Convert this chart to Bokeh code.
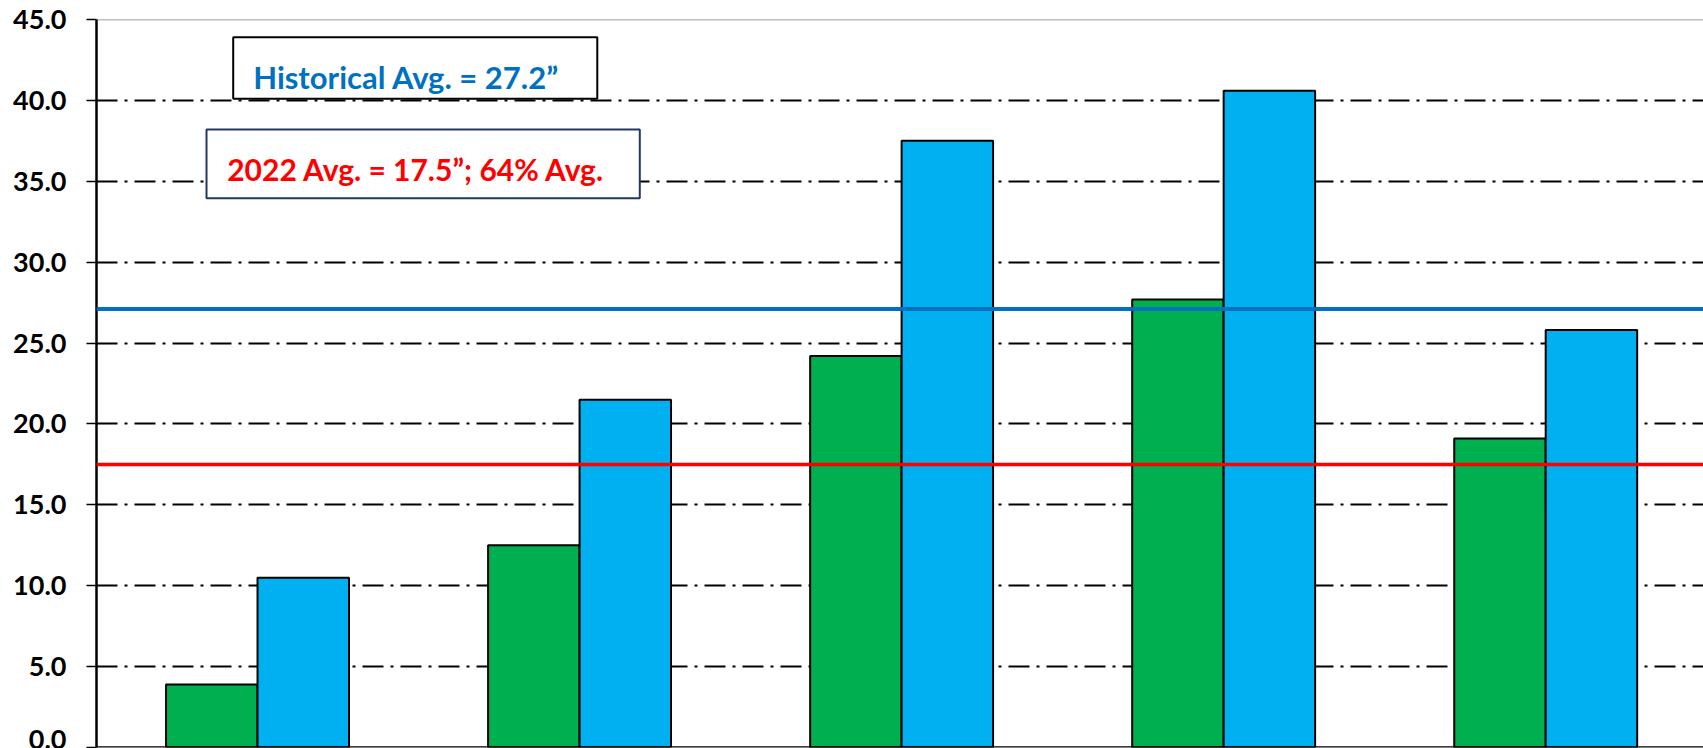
import numpy as np
from bokeh.plotting import figure
from bokeh.models import (Range1d, FixedTicker, PrintfTickFormatter, Span,
                          BoxAnnotation, Label, ColumnDataSource)
from bokeh.embed import file_html
from bokeh.resources import INLINE

# ---- data ----
categories = ["Group 1", "Group 2", "Group 3", "Group 4", "Group 5"]
season_2022 = [3.9, 12.5, 24.2, 27.7, 19.1]
historical = [10.5, 21.5, 37.5, 40.6, 25.8]
avg_2022 = 17.5
avg_hist = 27.1
y_ticks = [0, 5, 10, 15, 20, 25, 30, 35, 40, 45]
hist_text = "Historical Avg. = 27.2\u201d"
text_2022 = "2022 Avg. = 17.5\u201d; 64% Avg."

GREEN = "#00B050"
BLUE = "#00B0F0"
LINE_BLUE = "#0070C0"
RED = "#FF0000"
FONT = "Lato"

idx = np.arange(len(categories))
bar_w = 0.284
src = ColumnDataSource(dict(
    cat=categories,
    xg=idx + 0.5 - bar_w / 2,
    xb=idx + 0.5 + bar_w / 2,
    g=season_2022,
    b=historical,
))

p = figure(width=1703, height=748,
           x_range=Range1d(0, 4.99), y_range=Range1d(0, 45),
           output_backend="svg", toolbar_location=None,
           min_border_left=96, min_border_right=0,
           min_border_top=19, min_border_bottom=1)
p.outline_line_color = None
p.background_fill_color = "white"
p.border_fill_color = "white"

p.xaxis.visible = False
p.xgrid.visible = False

yax = p.yaxis[0]
yax.ticker = FixedTicker(ticks=y_ticks)
yax.formatter = PrintfTickFormatter(format="%.1f")
yax.major_label_text_font = FONT
yax.major_label_text_font_style = "bold"
yax.major_label_text_font_size = "27px"
yax.major_label_text_color = "black"
yax.major_label_standoff = 20
yax.major_tick_out = 10
yax.major_tick_in = 0
yax.minor_tick_out = 0
yax.minor_tick_in = 0
yax.axis_line_color = "black"
yax.axis_line_width = 2.5
yax.major_tick_line_color = "black"
yax.major_tick_line_width = 1.5

p.ygrid.ticker = FixedTicker(ticks=y_ticks)
p.ygrid.grid_line_color = "black"
p.ygrid.grid_line_width = 2
p.ygrid.grid_line_dash = "21 7 3 7"

# top border of plot area
p.add_layout(Span(location=45, dimension="width", line_color="#808080",
                  line_width=1.5, level="underlay"))

p.vbar(x="xg", top="g", width=bar_w, source=src, fill_color=GREEN,
       line_color="black", line_width=2)
p.vbar(x="xb", top="b", width=bar_w, source=src, fill_color=BLUE,
       line_color="black", line_width=2)

# bottom axis line
p.add_layout(Span(location=0, dimension="width", line_color="black",
                  line_width=2.5))

p.add_layout(Span(location=avg_hist, dimension="width",
                  line_color=LINE_BLUE, line_width=4))
p.add_layout(Span(location=avg_2022, dimension="width",
                  line_color=RED, line_width=3.5))

# text boxes
p.add_layout(BoxAnnotation(left=0.4245, right=1.555, bottom=40.10, top=43.91,
                           fill_color="white", fill_alpha=1,
                           line_color="black", line_alpha=1, line_width=2))
p.add_layout(Label(x=0.4866, y=41.43, text=hist_text,
                   text_font=FONT, text_font_style="bold",
                   text_font_size="31px", text_color=LINE_BLUE,
                   text_baseline="alphabetic", text_align="left"))

p.add_layout(BoxAnnotation(left=0.3416, right=1.687, bottom=33.95, top=38.2,
                           fill_color="white", fill_alpha=1,
                           line_color="#1F3864", line_alpha=1, line_width=2))
p.add_layout(Label(x=0.4059, y=35.77, text=text_2022,
                   text_font=FONT, text_font_style="bold",
                   text_font_size="30px", text_color=RED,
                   text_baseline="alphabetic", text_align="left"))

open("out.html", "w").write(file_html(p, INLINE))
